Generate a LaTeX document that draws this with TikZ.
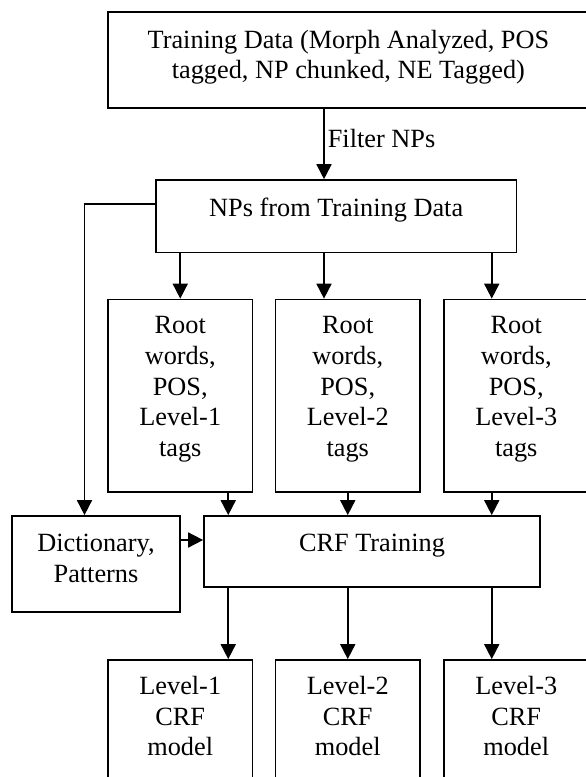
\documentclass[tikz,border=0pt]{standalone}
\usepackage{fontspec}
\setmainfont{Liberation Serif}
\usetikzlibrary{arrows.meta,positioning}

\tikzset{
	box/.style={draw, line width=1.7pt, inner sep=0pt, align=center, font=\fontsize{26.3}{30.7}\selectfont},
	onebox/.style={box, text height=0pt, text depth=0pt},
	twobox/.style={box, text depth=11pt},
	tagbox/.style={box, minimum width=144.5pt, text depth=18pt},
	arr/.style={line width=1.7pt, -{Triangle[length=15pt,width=15pt]}},
}

\begin{document}
\begin{tikzpicture}[x=1pt,y=-1pt]
	\useasboundingbox (0,0) rectangle (586,777);
	\clip (0,0) rectangle (586,777);

	\node[twobox, minimum width=481.4pt, minimum height=95.4pt] (train) at (348.4,60) {Training Data (Morph Analyzed, POS\\tagged, NP chunked, NE Tagged)};
	\node[onebox, minimum width=360.4pt, minimum height=72.3pt] (nps) at (336.2,216.2) {NPs from Training Data};

	\node[tagbox, minimum height=192.2pt] (tag1) at (180.25,395.6) {Root\\words,\\POS,\\Level-1\\tags};
	\node[tagbox, minimum height=192.2pt] (tag2) at (347.75,395.6) {Root\\words,\\POS,\\Level-2\\tags};
	\node[tagbox, minimum height=192.2pt] (tag3) at (516.25,395.6) {Root\\words,\\POS,\\Level-3\\tags};

	\node[twobox, minimum width=168.6pt, minimum height=95.7pt] (dict) at (96,563.85) {Dictionary,\\Patterns};
	\node[onebox, minimum width=336pt, minimum height=71.3pt] (crf) at (372,551.65) {CRF Training};

	\node[tagbox, minimum height=130pt] (mod1) at (180.25,725) {Level-1\\CRF\\model};
	\node[tagbox, minimum height=130pt] (mod2) at (347.75,725) {Level-2\\CRF\\model};
	\node[tagbox, minimum height=130pt] (mod3) at (516.25,725) {Level-3\\CRF\\model};

	% NPs out of the training data
	\draw[arr] ([xshift=-24.4pt]train.south) -- ([xshift=-12.2pt]nps.north) node[pos=0.42, right, inner sep=3pt, font=\fontsize{26.3}{30.7}\selectfont] (filter) {Filter NPs};

	\draw[arr] (tag1.north |- nps.south) -- (tag1.north);
	\draw[arr] ([xshift=-12.2pt]nps.south) -- ([xshift=-23.75pt]tag2.north);
	\draw[arr] ([xshift=-24.5pt]tag3.north |- nps.south) -- ([xshift=-24.5pt]tag3.north);
	\draw[arr] ([yshift=12.2pt]nps.west) -| ([xshift=-11.5pt]dict.north);

	% into the CRF training
	\draw[arr] ([xshift=48pt]tag1.south) -- ([xshift=48pt]tag1.south |- crf.north);
	\draw[arr] (tag2.south) -- (tag2.south |- crf.north);
	\draw[arr] ([xshift=-24.5pt]tag3.south) -- ([xshift=-24.5pt]tag3.south |- crf.north);
	\draw[arr] ([yshift=23.85pt]dict.east) -- ([yshift=23.85pt]dict.east -| crf.west);

	% the three models
	\draw[arr] ([xshift=48pt]mod1.north |- crf.south) -- ([xshift=48pt]mod1.north);
	\draw[arr] (mod2.north |- crf.south) -- (mod2.north);
	\draw[arr] ([xshift=-24.5pt]mod3.north |- crf.south) -- ([xshift=-24.5pt]mod3.north);
\end{tikzpicture}
\end{document}
